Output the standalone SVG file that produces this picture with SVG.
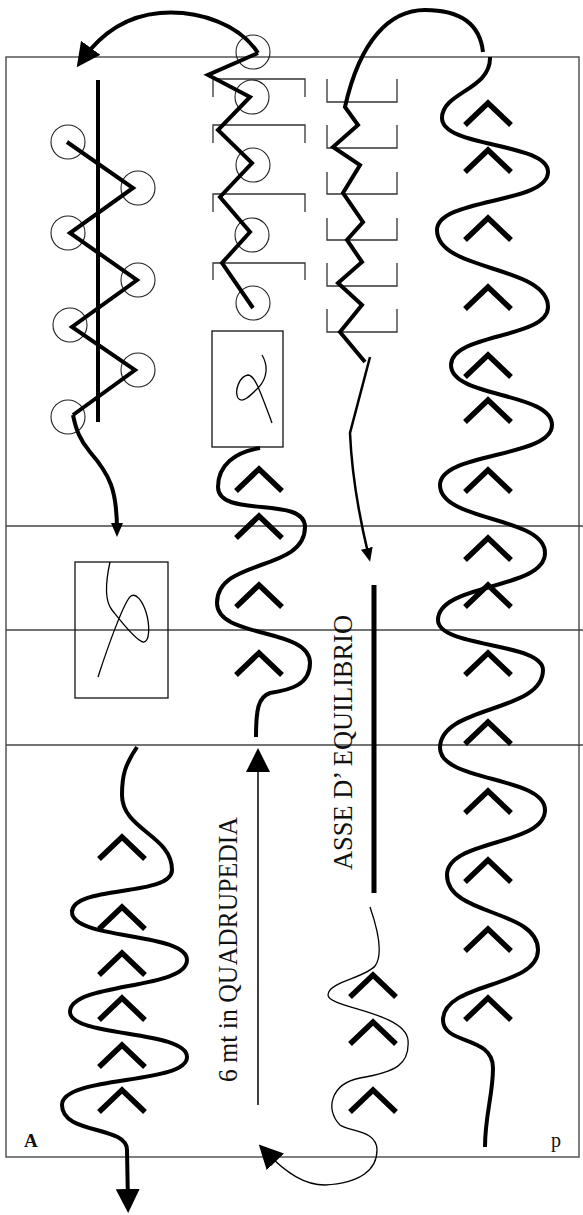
<svg xmlns="http://www.w3.org/2000/svg" width="583" height="1215" viewBox="0 0 583 1215">
<style>
.frame{fill:none;stroke:#555;stroke-width:1.5}
.hl{fill:none;stroke:#444;stroke-width:1.3}
.thick{fill:none;stroke:#000;stroke-width:4;stroke-linejoin:miter;stroke-linecap:butt}
.thin{fill:none;stroke:#000;stroke-width:1.3}
.chev{fill:none;stroke:#000;stroke-width:5.5;stroke-linejoin:miter}
.circ{fill:none;stroke:#222;stroke-width:1.1}
.brk{fill:none;stroke:#333;stroke-width:1.3}
.box{fill:none;stroke:#111;stroke-width:1.3}
.lbl{font-family:"Liberation Serif","Times New Roman",serif;fill:#111}
</style>
<defs>
<marker id="big" markerUnits="userSpaceOnUse" markerWidth="24" markerHeight="24" viewBox="0 0 24 24" refX="15" refY="12" orient="auto"><path d="M0,0 L24,12 L0,24 z" fill="#000"/></marker>
<marker id="small" markerUnits="userSpaceOnUse" markerWidth="14" markerHeight="12" viewBox="0 0 14 12" refX="8" refY="6" orient="auto"><path d="M0,0 L14,6 L0,12 z" fill="#000"/></marker>
<path id="chev" class="chev" d="M-23,22 L0,0 L23,22"/>
</defs>
<rect width="583" height="1215" fill="#fff"/>
<g id="frame">
<rect class="frame" x="6" y="57" width="573" height="1100"/>
<line class="hl" x1="6" y1="526" x2="583" y2="526"/>
<line class="hl" x1="6" y1="630" x2="583" y2="630" stroke="#666"/>
<line class="hl" x1="6" y1="745" x2="583" y2="745" stroke="#666"/>
</g>
<g id="col1-zigzag">
<line class="thick" x1="98" y1="80" x2="98" y2="422"/>
<circle class="circ" cx="68" cy="142" r="17"/>
<circle class="circ" cx="138" cy="188" r="17"/>
<circle class="circ" cx="68" cy="233" r="17"/>
<circle class="circ" cx="138" cy="280" r="17"/>
<circle class="circ" cx="70" cy="325" r="17"/>
<circle class="circ" cx="138" cy="370" r="17"/>
<circle class="circ" cx="68" cy="417" r="17"/>
<path class="thick" d="M67 142 L133 188 L70 233 L137 280 L72 327 L135 370 L73 415"/>
</g>
<g id="box1">
<rect class="box" x="75" y="562" width="93" height="136"/>
<path class="thin" d="M110 562 C106 580,104 600,112 610 C120 620,135 640,143 642 C150 643,150 625,146 612 C142 600,136 593,131 596 C125 600,110 640,98 677"/>
</g>
<g id="col1-wave">
<path class="thick" d="M137 747 C125 765,122 775,122 795 C122 830,172 835,172 870 C172 897,72 885,72 912 C72 940,187 932,187 960 C187 990,70 982,70 1012 C70 1037,187 1030,187 1057 C187 1085,62 1075,62 1105 C62 1135,127 1125,127 1150 L128 1204" marker-end="url(#big)"/>
<use href="#chev" x="122" y="837"/>
<use href="#chev" x="122" y="907"/>
<use href="#chev" x="122" y="953"/>
<use href="#chev" x="122" y="998"/>
<use href="#chev" x="122" y="1045"/>
<use href="#chev" x="122" y="1090"/>
</g>
<g id="col2-zigzag">
<path class="brk" d="M213 97 V79 H305 V97"/>
<path class="brk" d="M213 143 V125 H305 V143"/>
<path class="brk" d="M213 212 V194 H305 V212"/>
<path class="brk" d="M213 280 V263 H305 V280"/>
<circle class="circ" cx="253" cy="52" r="17"/>
<circle class="circ" cx="252" cy="97" r="17"/>
<circle class="circ" cx="253" cy="165" r="17"/>
<circle class="circ" cx="252" cy="235" r="17"/>
<circle class="circ" cx="253" cy="303" r="17"/>
<path class="thick" d="M258 53 L208 75 L250 97 L218 130 L252 163 L220 197 L250 232 L222 263 L253 308"/>
</g>
<g id="box2">
<rect class="box" x="212" y="331" width="71" height="116"/>
<path class="thin" d="M262 355 C268 365,268 378,258 388 C250 396,242 404,238 398 C234 390,240 376,248 375 C254 375,258 385,272 423"/>
</g>
<g id="col2-wave">
<path class="thick" d="M260 448 C235 452,218 465,218 487 C218 519,305 495,305 527 C305 572,217 558,217 603 C217 639,310 627,310 663 C310 685,290 690,270 693 C258 697,256 710,256 737"/>
<use href="#chev" x="259" y="469"/>
<use href="#chev" x="259" y="516"/>
<use href="#chev" x="259" y="585"/>
<use href="#chev" x="259" y="653"/>
</g>
<g id="col3-zigzag">
<path class="brk" d="M327 79 V102 H397 V79"/>
<path class="brk" d="M327 125 V148 H397 V125"/>
<path class="brk" d="M327 172 V194 H397 V172"/>
<path class="brk" d="M327 218 V240 H397 V218"/>
<path class="brk" d="M327 263 V286 H397 V263"/>
<path class="brk" d="M327 309 V332 H397 V309"/>
<path class="thick" d="M483 52 C480 25,462 10,425 10 C390 10,360 40,345 107 L358 125 L333 147 L360 165 L343 193 L363 222 L347 240 L362 262 L338 283 L362 305 L340 332 L365 362"/>
</g>
<g id="axis">
<line x1="374" y1="585" x2="374" y2="893" stroke="#000" stroke-width="5"/>
<text class="lbl" font-size="27" textLength="255" lengthAdjust="spacingAndGlyphs" transform="translate(352,870) rotate(-90)">ASSE D’ EQUILIBRIO</text>
</g>
<g id="col3-wave">
<path class="thin" d="M370 907 C378 930,383 955,375 966 C365 978,328 982,328 995 C328 1008,405 1012,408 1040 C410 1065,395 1072,360 1078 C330 1084,325 1110,340 1125 C350 1132,377 1130,377 1150 C377 1170,360 1183,325 1185 C305 1185,287 1174,265 1151" marker-end="url(#big)"/>
<use href="#chev" x="373" y="975"/>
<use href="#chev" x="373" y="1022"/>
<use href="#chev" x="373" y="1090"/>
</g>
<g id="col4-wave">
<path class="thick" d="M490 57 C491 90,442 92,442 118 C442 148,548 142,548 172 C548 204,437 198,437 230 C437 272,548 265,548 307 C548 339,451 333,451 365 C451 398,552 392,552 425 C552 458,440 452,440 485 C440 522,545 516,545 553 C545 590,438 583,438 620 C438 648,543 642,543 670 C543 713,440 705,440 748 C440 782,545 776,545 810 C545 846,447 839,447 875 C447 916,538 909,538 950 C538 988,443 982,443 1020 C443 1045,493 1035,493 1068 C493 1095,485 1115,485 1147"/>
<use href="#chev" x="488" y="103"/>
<use href="#chev" x="488" y="150"/>
<use href="#chev" x="488" y="218"/>
<use href="#chev" x="488" y="287"/>
<use href="#chev" x="488" y="355"/>
<use href="#chev" x="488" y="400"/>
<use href="#chev" x="488" y="470"/>
<use href="#chev" x="488" y="538"/>
<use href="#chev" x="488" y="585"/>
<use href="#chev" x="488" y="653"/>
<use href="#chev" x="488" y="722"/>
<use href="#chev" x="488" y="791"/>
<use href="#chev" x="488" y="860"/>
<use href="#chev" x="488" y="929"/>
<use href="#chev" x="488" y="998"/>
</g>
<g id="connectors">
<path class="thick" d="M258 53 C240 25,200 10,160 13 C125 16,100 35,82 60" marker-end="url(#big)"/>
<path class="thick" d="M73 415 C76 430,80 440,90 452 C110 475,117 490,117 531" marker-end="url(#small)"/>
<path fill="none" stroke="#000" stroke-width="2.5" d="M370 357 L350 433 C352 480,360 520,368.7 556" marker-end="url(#small)"/>
<line x1="258" y1="1105" x2="258" y2="757" stroke="#000" stroke-width="1.5" marker-end="url(#big)"/>
</g>
<g id="labels">
<text class="lbl" font-size="27" textLength="265" lengthAdjust="spacingAndGlyphs" transform="translate(237,1082) rotate(-90)">6 mt in QUADRUPEDIA</text>
<text class="lbl" x="24" y="1147" font-size="19" font-weight="bold">A</text>
<text class="lbl" x="551" y="1147" font-size="20">p</text>
</g>
</svg>
